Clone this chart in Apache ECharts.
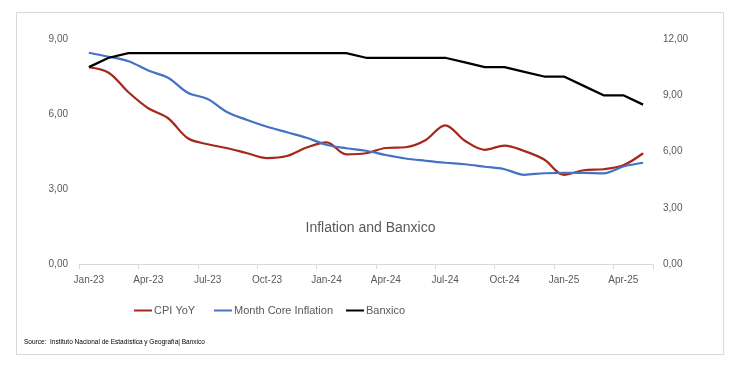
<!DOCTYPE html>
<html>
<head>
<meta charset="utf-8">
<script src="https://cdn.jsdelivr.net/npm/echarts@6/dist/echarts.min.js"></script>
<style>
html,body{margin:0;padding:0;background:#fff;}
#frame{position:absolute;left:16px;top:12px;width:708px;height:343px;border:1px solid #d9d9d9;box-sizing:border-box;}
#chart{position:absolute;left:0;top:0;width:741px;height:370px;}
</style>
</head>
<body>
<div id="frame"></div>
<div id="chart"></div>
<script>
const months = ['Jan-23','Feb-23','Mar-23','Apr-23','May-23','Jun-23','Jul-23','Aug-23','Sep-23','Oct-23','Nov-23','Dec-23',
  'Jan-24','Feb-24','Mar-24','Apr-24','May-24','Jun-24','Jul-24','Aug-24','Sep-24','Oct-24','Nov-24','Dec-24',
  'Jan-25','Feb-25','Mar-25','Apr-25','May-25'];
const cpiYoY = [7.87,7.65,6.87,6.23,5.83,5.03,4.79,4.63,4.43,4.24,4.32,4.66,4.87,4.39,4.43,4.64,4.67,4.95,5.55,4.93,4.57,4.74,4.52,4.18,3.57,3.75,3.79,3.95,4.43];
const coreInflation = [8.45,8.29,8.11,7.74,7.45,6.85,6.60,6.07,5.76,5.49,5.27,5.05,4.77,4.63,4.53,4.36,4.22,4.13,4.05,3.99,3.89,3.79,3.57,3.63,3.65,3.65,3.63,3.90,4.05];
const banxico = [10.5,11.0,11.25,11.25,11.25,11.25,11.25,11.25,11.25,11.25,11.25,11.25,11.25,11.25,11.0,11.0,11.0,11.0,11.0,10.75,10.5,10.5,10.25,10.0,10.0,9.5,9.0,9.0,8.5];
const seriesNames = ['CPI YoY','Month Core Inflation','Banxico'];

const FONT = '"Liberation Sans", Arial, sans-serif';
const fmt = v => v.toFixed(2).replace('.', ',');
const legendLefts = [129, 209, 341];

const chart = echarts.init(document.getElementById('chart'), null, {renderer:'canvas'});
chart.setOption({
  animation:false,
  backgroundColor:'transparent',
  title:[
    {text:'Inflation and Banxico', left:'center', top:216,
     textStyle:{fontFamily:FONT, fontSize:14, fontWeight:'normal', color:'#595959'}},
    {text:'Source:  Instituto Nacional de Estadística y Geografía| Banxico', left:19, top:334,
     textStyle:{fontFamily:FONT, fontSize:6.5, fontWeight:'normal', color:'#000'}}
  ],
  legend:seriesNames.map((n,i)=>({
    left:legendLefts[i], top:300, itemWidth:18, itemHeight:2, itemGap:10, icon:'rect',
    textStyle:{fontFamily:FONT, fontSize:11, color:'#595959', padding:[0,0,0,-3]},
    data:[n]
  })),
  grid:{left:79, right:88, top:39, bottom:106},
  xAxis:{
    type:'category', data:months, boundaryGap:true,
    axisLine:{lineStyle:{color:'#d9d9d9'}},
    axisTick:{show:true, interval:2, length:5, lineStyle:{color:'#d9d9d9'}},
    axisLabel:{interval:2, color:'#595959', fontFamily:FONT, fontSize:10, margin:11},
    splitLine:{show:false}
  },
  yAxis:[
    {type:'value', min:0, max:9, interval:3, position:'left',
     axisLine:{show:false}, axisTick:{show:false}, splitLine:{show:false},
     axisLabel:{formatter:fmt, color:'#595959', fontFamily:FONT, fontSize:10, margin:11}},
    {type:'value', min:0, max:12, interval:3, position:'right',
     axisLine:{show:false}, axisTick:{show:false}, splitLine:{show:false},
     axisLabel:{formatter:fmt, color:'#595959', fontFamily:FONT, fontSize:10, margin:10}}
  ],
  series:[
    {name:seriesNames[0], type:'line', data:cpiYoY, yAxisIndex:0, smooth:0.35, showSymbol:false,
     lineStyle:{color:'#A5281B', width:2.25}, itemStyle:{color:'#A5281B'}},
    {name:seriesNames[1], type:'line', data:coreInflation, yAxisIndex:0, smooth:0.35, showSymbol:false,
     lineStyle:{color:'#4472C4', width:2.25}, itemStyle:{color:'#4472C4'}},
    {name:seriesNames[2], type:'line', data:banxico, yAxisIndex:1, smooth:false, showSymbol:false,
     lineStyle:{color:'#000000', width:2.25}, itemStyle:{color:'#000000'}}
  ]
});
</script>
</body>
</html>
